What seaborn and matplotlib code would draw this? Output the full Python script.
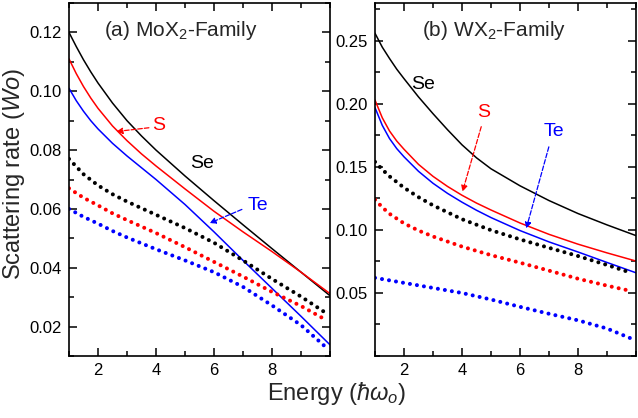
import matplotlib
matplotlib.use('Agg')
import matplotlib.pyplot as plt
from matplotlib.ticker import MultipleLocator, FormatStrFormatter
import seaborn as sns

## data
## (a) MoX2 family
x_mo_solid = [1, 1.25, 1.5, 1.75, 2, 2.5, 3, 3.5, 4, 5, 6, 7, 8, 9, 10]
mo_se = [0.1200, 0.1152, 0.1107, 0.1066, 0.1028, 0.0960, 0.0900, 0.0848, 0.0800,
         0.0712, 0.0628, 0.0546, 0.0465, 0.0385, 0.0305]
mo_s = [0.1110, 0.1060, 0.1016, 0.0977, 0.0942, 0.0882, 0.0832, 0.0787, 0.0746,
        0.0668, 0.0592, 0.0522, 0.0455, 0.0385, 0.0312]
mo_te = [0.1010, 0.0968, 0.0932, 0.0900, 0.0872, 0.0823, 0.0780, 0.0740, 0.0700,
         0.0615, 0.0522, 0.0425, 0.0330, 0.0235, 0.0138]

x_mo_dot = [1, 1.5, 2, 2.5, 3, 4, 5, 6, 7, 8, 9, 9.8]
mo_se_dot = [0.0770, 0.0718, 0.0680, 0.0650, 0.0625, 0.0580, 0.0535, 0.0485, 0.0425, 0.0362, 0.0302, 0.0250]
mo_s_dot = [0.0670, 0.0638, 0.0612, 0.0585, 0.0562, 0.0518, 0.0470, 0.0420, 0.0370, 0.0318, 0.0270, 0.0226]
mo_te_dot = [0.0600, 0.0573, 0.0550, 0.0525, 0.0503, 0.0463, 0.0425, 0.0385, 0.0335, 0.0272, 0.0205, 0.0135]

## (b) WX2 family
x_w_solid = [1, 1.25, 1.5, 1.75, 2, 2.5, 3, 3.5, 4, 4.5, 5, 6, 7, 8, 9, 10]
w_se = [0.2560, 0.2450, 0.2360, 0.2275, 0.2200, 0.2055, 0.1922, 0.1795, 0.1675, 0.1572,
        0.1485, 0.1350, 0.1233, 0.1130, 0.1040, 0.0955]
w_s = [0.2030, 0.1890, 0.1785, 0.1705, 0.1640, 0.1520, 0.1425, 0.1345, 0.1275, 0.1213,
       0.1158, 0.1055, 0.0965, 0.0887, 0.0818, 0.0753]
w_te = [0.1970, 0.1830, 0.1725, 0.1645, 0.1580, 0.1465, 0.1370, 0.1290, 0.1220, 0.1156,
        0.1098, 0.0995, 0.0905, 0.0825, 0.0742, 0.0660]

x_w_dot = [1, 1.25, 1.5, 2, 2.5, 3, 4, 5, 6, 7, 8, 9, 9.8]
w_se_dot = [0.1540, 0.1480, 0.1425, 0.1335, 0.1260, 0.1195, 0.1085, 0.0998, 0.0925,
            0.0858, 0.0793, 0.0722, 0.0662]
w_s_dot = [0.1240, 0.1180, 0.1128, 0.1052, 0.0995, 0.0948, 0.0868, 0.0800, 0.0740,
           0.0677, 0.0613, 0.0558, 0.0517]
w_te_dot = [0.0620, 0.0610, 0.0600, 0.0580, 0.0560, 0.0540, 0.0500, 0.0448, 0.0390,
            0.0335, 0.0283, 0.0218, 0.0142]

sns.set_theme(style='ticks')
plt.rcParams['font.family'] = ['Liberation Sans', 'DejaVu Sans']
plt.rcParams['mathtext.fontset'] = 'custom'
plt.rcParams['mathtext.rm'] = 'Liberation Sans'
plt.rcParams['mathtext.it'] = 'Liberation Sans:italic'
plt.rcParams['mathtext.fallback'] = 'cm'

fig = plt.figure(figsize=(6.38, 4.18), dpi=100)
ax1 = fig.add_axes([69/638, 1-356/418, 261/638, 353/418])
ax2 = fig.add_axes([375/638, 1-356/418, 261/638, 353/418])

dots = (0, (0.01, 1.75))


def draw(ax, xs, ys, xd, yd):
    for y, c in zip(ys, ['black', 'red', 'blue']):
        sns.lineplot(x=xs, y=y, ax=ax, color=c, lw=1.1, errorbar=None)
    for y, c in zip(yd, ['black', 'red', 'blue']):
        sns.lineplot(x=xd, y=y, ax=ax, color=c, lw=2.9, errorbar=None,
                     linestyle=dots, dash_capstyle='round')


draw(ax1, x_mo_solid, [mo_se, mo_s, mo_te], x_mo_dot, [mo_se_dot, mo_s_dot, mo_te_dot])
draw(ax2, x_w_solid, [w_se, w_s, w_te], x_w_dot, [w_se_dot, w_s_dot, w_te_dot])

for ax in (ax1, ax2):
    ax.set_xlim(1, 10)
    ax.set_xticks([2, 4, 6, 8])
    ax.xaxis.set_minor_locator(MultipleLocator(1))
    ax.tick_params(which='both', direction='in', top=True, right=True,
                   labelsize=12, width=1.1, colors='black', pad=5)
    ax.tick_params(which='major', length=6)
    ax.tick_params(which='minor', length=3.5)
    ax.yaxis.set_major_formatter(FormatStrFormatter('%.2f'))
    for sp in ax.spines.values():
        sp.set_linewidth(1.2)
        sp.set_color('black')
    ax.set_xlabel('')
    ax.set_ylabel('')

ax1.set_ylim(0.01, 0.13)
ax1.set_yticks([0.02, 0.04, 0.06, 0.08, 0.10, 0.12])
ax1.yaxis.set_minor_locator(MultipleLocator(0.01))
ax2.set_ylim(0, 0.28)
ax2.set_yticks([0.05, 0.10, 0.15, 0.20, 0.25])
ax2.yaxis.set_minor_locator(MultipleLocator(0.025))

## axis titles
fig.text(14/638, 0.583, 'Scattering rate ($Wo$)', fontsize=17, rotation=90,
         ha='center', va='center')
fig.text(0.527, 0.058, r'Energy ($\hbar\omega_o$)', fontsize=17, ha='center', va='center')

## panel titles and labels
ax1.text(4.86, 0.1206, '(a) MoX$_2$-Family', fontsize=15, ha='center', va='center')
ax2.text(5.10, 0.2580, '(b) WX$_2$-Family', fontsize=15, ha='center', va='center')

ax1.text(5.59, 0.0754, 'Se', fontsize=14, color='black', ha='center', va='center')
ax1.text(4.08, 0.0884, 'S', fontsize=14, color='red', ha='center', va='center')
ax1.text(7.53, 0.0613, 'Te', fontsize=14, color='blue', ha='center', va='center')
ax1.annotate('', xy=(2.54, 0.0862), xytext=(3.85, 0.0877),
             arrowprops=dict(arrowstyle='-|>', ls='--', color='red', lw=0.9, mutation_scale=9))
ax1.annotate('', xy=(5.76, 0.0548), xytext=(7.05, 0.0602),
             arrowprops=dict(arrowstyle='-|>', ls='--', color='blue', lw=0.9, mutation_scale=9))

ax2.text(2.66, 0.2153, 'Se', fontsize=14, color='black', ha='center', va='center')
ax2.text(4.76, 0.1928, 'S', fontsize=14, color='red', ha='center', va='center')
ax2.text(7.16, 0.1778, 'Te', fontsize=14, color='blue', ha='center', va='center')
ax2.annotate('', xy=(3.99, 0.1282), xytext=(4.69, 0.1840),
             arrowprops=dict(arrowstyle='-|>', ls='--', color='red', lw=0.9, mutation_scale=9))
ax2.annotate('', xy=(6.19, 0.0990), xytext=(7.02, 0.1680),
             arrowprops=dict(arrowstyle='-|>', ls='--', color='blue', lw=0.9, mutation_scale=9))

fig.savefig('out.png', dpi=100)
